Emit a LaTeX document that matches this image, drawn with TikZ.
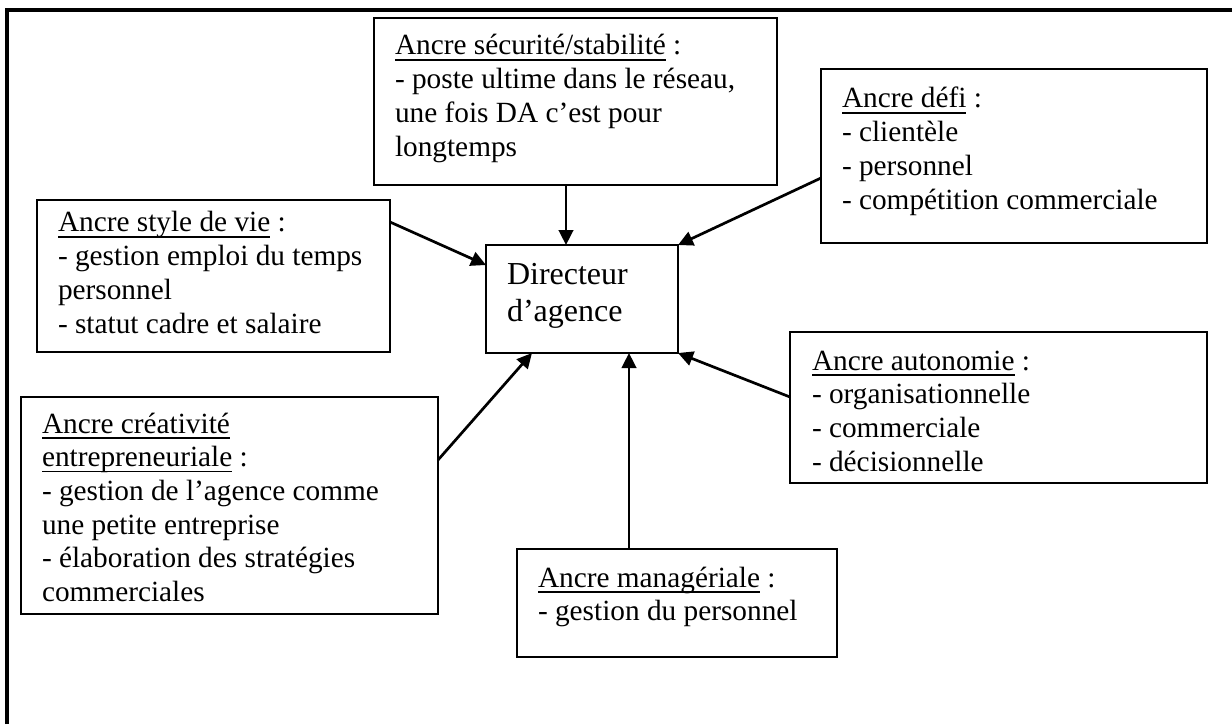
\documentclass[tikz,border=0pt]{standalone}
\usepackage{fontspec}
\setmainfont{Liberation Serif}
\usetikzlibrary{arrows.meta}
\newsavebox\ulbox
\newcommand\ulc[1]{\sbox\ulbox{#1}\rlap{\rule[-5.6pt]{\wd\ulbox}{1.6pt}}\usebox\ulbox}
\begin{document}
\begin{tikzpicture}[x=1pt,y=-1pt,
  box/.style={draw, line width=2.3pt, inner sep=0pt, outer sep=0pt, anchor=north west},
  txt/.style={inner sep=0pt, outer sep=0pt, anchor=north west, align=left,
    font=\fontsize{29.3}{33.7}\selectfont},
  bigtxt/.style={txt, font=\fontsize{32}{36.5}\selectfont},
  arr/.style={line width=2.7pt, -{Triangle[length=15pt,width=14.5pt]}},
  frame/.style={line width=3.3pt}]
\useasboundingbox (0,0) rectangle (1232,724);
\draw[frame] (7,724) -- (7,10) -- (1232,10);

% boxes
\node[box, minimum width=403pt, minimum height=167pt] (sec) at (374,18) {};
\node[box, minimum width=353pt, minimum height=152pt] (sty) at (37,200) {};
\node[box, minimum width=386pt, minimum height=174pt] (def) at (821,69) {};
\node[box, minimum width=192pt, minimum height=108pt] (dir) at (486,245) {};
\node[box, minimum width=417pt, minimum height=151pt] (aut) at (790,332) {};
\node[box, minimum width=417pt, minimum height=217pt] (cre) at (21,397) {};
\node[box, minimum width=320pt, minimum height=108pt] (man) at (517,549) {};

% texts
\node[txt] (sect) at (395,31.4) {\strut\ulc{Ancre sécurité/stabilité} :\\- poste ultime dans le réseau,\\une fois DA c’est pour\\longtemps};
\node[txt] (styt) at (58,208.4) {\strut\ulc{Ancre style de vie} :\\- gestion emploi du temps\\personnel\\- statut cadre et salaire};
\node[txt] (deft) at (842,84.4) {\strut\ulc{Ancre défi} :\\- clientèle\\- personnel\\- compétition commerciale};
\node[bigtxt] (dirt) at (507,259.4) {\strut Directeur\\d’agence};
\node[txt] (autt) at (812,346.4) {\strut\ulc{Ancre autonomie} :\\- organisationnelle\\- commerciale\\- décisionnelle};
\node[txt] (cret) at (42,409.4) {\strut\ulc{Ancre créativité}\\\ulc{entrepreneuriale} :\\- gestion de l’agence comme\\une petite entreprise\\- élaboration des stratégies\\commerciales};
\node[txt] (mant) at (538,563.4) {\strut\ulc{Ancre managériale} :\\- gestion du personnel};

% arrows
\draw[arr] ([xshift=192pt]sec.south west) -- ([xshift=80pt]dir.north west);
\draw[arr] ([yshift=-22pt]sty.north east) -- ([yshift=-20pt]dir.north west);
\draw[arr] ([yshift=-109pt]def.north west) -- (dir.north east);
\draw[arr] ([yshift=-65pt]aut.north west) -- (dir.south east);
\draw[arr] ([xshift=112pt]man.north west) -- ([xshift=143pt]dir.south west);
\draw[arr] ([yshift=-63pt]cre.north east) -- ([xshift=46pt]dir.south west);
\end{tikzpicture}
\end{document}
